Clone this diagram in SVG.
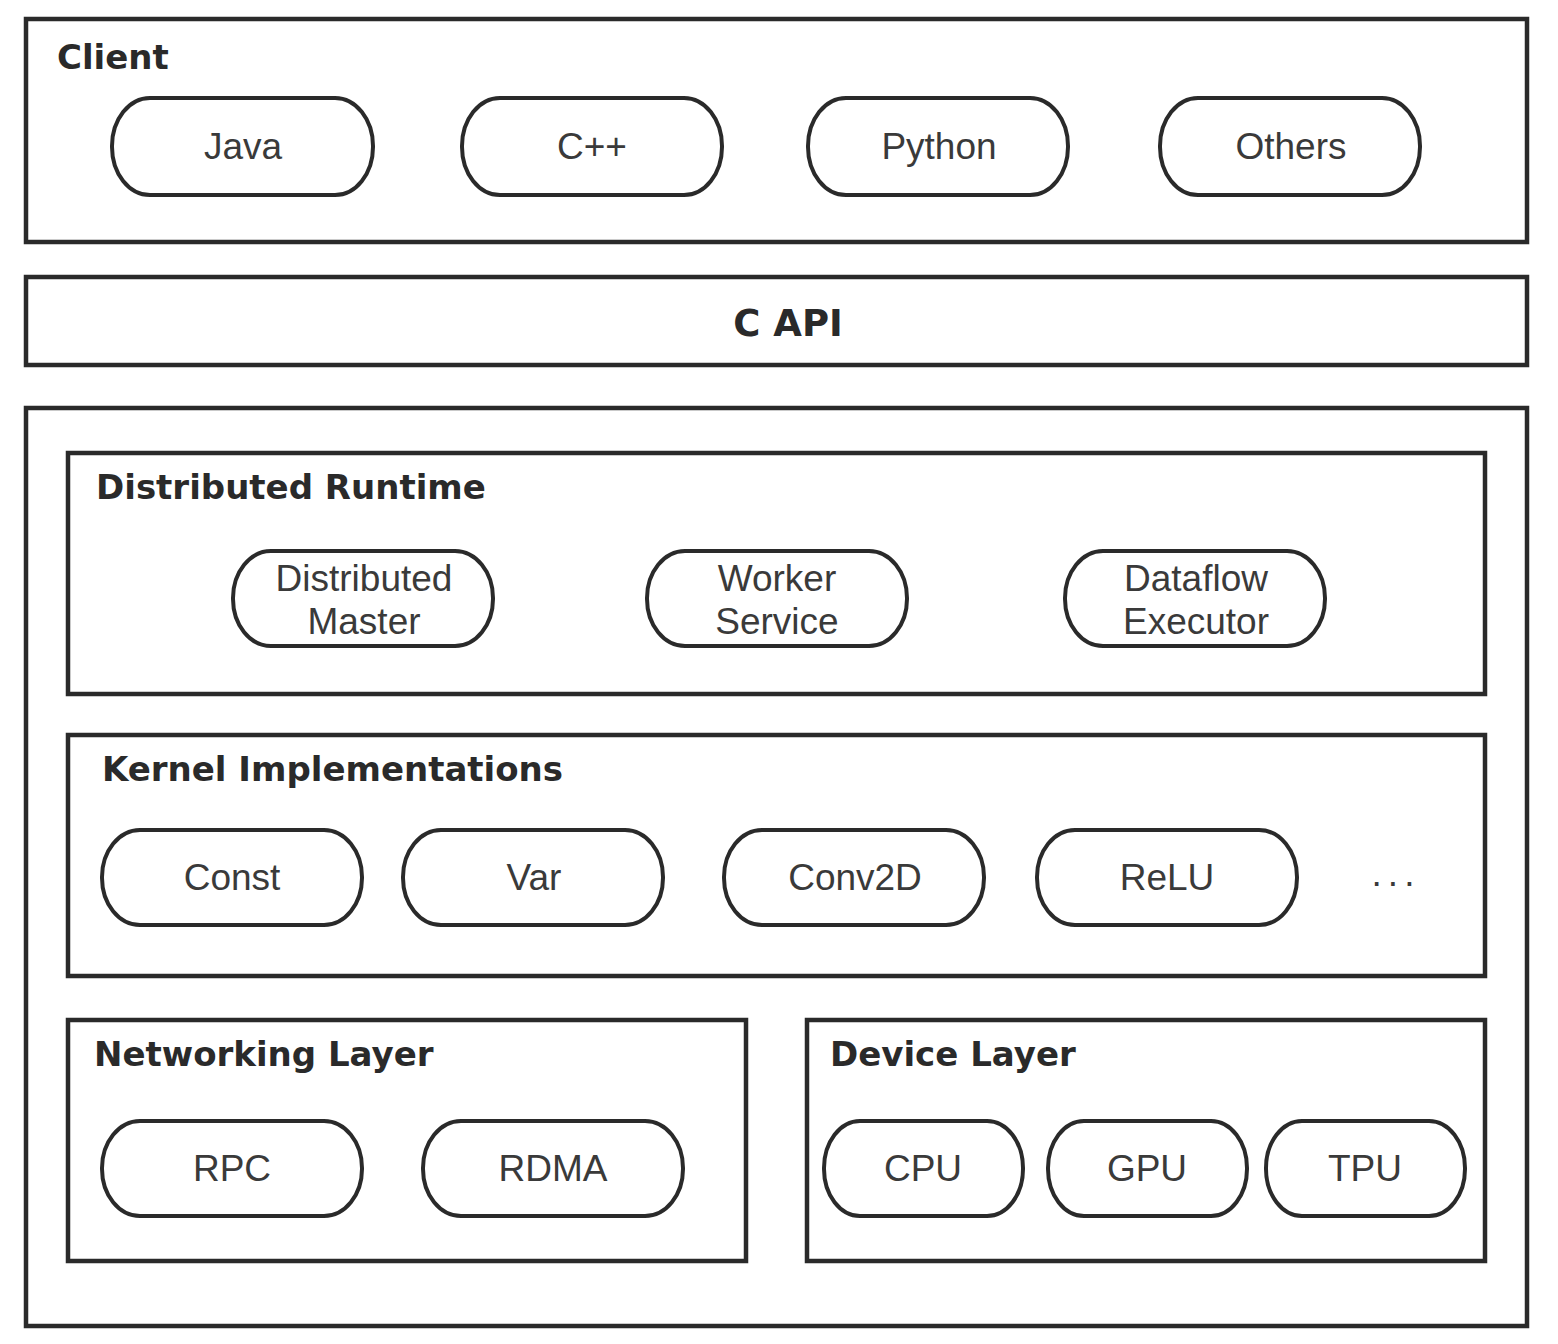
<svg xmlns="http://www.w3.org/2000/svg" width="1558" height="1344" viewBox="0 0 1558 1344">
<style>
.box{fill:#fff;stroke:#2a2a2a;stroke-width:4.5}
.pill{fill:#fff;stroke:#2a2a2a;stroke-width:4}
.hd{font-family:"DejaVu Sans",sans-serif;font-weight:bold;font-size:34px;fill:#2a2a2a}
.lb{font-family:"Liberation Sans",Arial,sans-serif;font-size:37px;fill:#3a3a3a;text-anchor:middle}
</style>
<rect width="1558" height="1344" fill="#fff"/>
<g id="client">
<rect class="box" x="26" y="19" width="1501" height="223"/>
<text class="hd" x="57" y="69">Client</text>
</g>
<g id="java"><rect class="pill" x="112" y="98" width="261" height="97" rx="38" ry="48"/><text class="lb" x="243" y="159">Java</text></g>
<g id="cpp"><rect class="pill" x="462" y="98" width="260" height="97" rx="38" ry="48"/><text class="lb" x="592" y="159">C++</text></g>
<g id="python"><rect class="pill" x="808" y="98" width="260" height="97" rx="38" ry="48"/><text class="lb" x="939" y="159">Python</text></g>
<g id="others"><rect class="pill" x="1160" y="98" width="260" height="97" rx="38" ry="48"/><text class="lb" x="1291" y="159">Others</text></g>
<g id="capi">
<rect class="box" x="26" y="277" width="1501" height="88"/>
<text x="788" y="336" style="font-family:'DejaVu Sans',sans-serif;font-weight:bold;font-size:37px;fill:#2a2a2a;text-anchor:middle">C API</text>
</g>
<g id="core"><rect class="box" x="26" y="408" width="1501" height="918"/></g>
<g id="distributed-runtime">
<rect class="box" x="68" y="453" width="1417" height="241"/>
<text class="hd" x="96" y="499">Distributed Runtime</text>
</g>
<g id="distributed-master"><rect class="pill" x="233" y="551" width="260" height="95" rx="38" ry="47"/><text class="lb" x="364" y="591">Distributed</text><text class="lb" x="364" y="634">Master</text></g>
<g id="worker-service"><rect class="pill" x="647" y="551" width="260" height="95" rx="38" ry="47"/><text class="lb" x="777" y="591">Worker</text><text class="lb" x="777" y="634">Service</text></g>
<g id="dataflow-executor"><rect class="pill" x="1065" y="551" width="260" height="95" rx="38" ry="47"/><text class="lb" x="1196" y="591">Dataflow</text><text class="lb" x="1196" y="634">Executor</text></g>
<g id="kernel-implementations">
<rect class="box" x="68" y="735" width="1417" height="241"/>
<text class="hd" x="102" y="781">Kernel Implementations</text>
<text class="lb" x="1396" y="886" letter-spacing="6">...</text>
</g>
<g id="const"><rect class="pill" x="102" y="830" width="260" height="95" rx="38" ry="47"/><text class="lb" x="232" y="890">Const</text></g>
<g id="var"><rect class="pill" x="403" y="830" width="260" height="95" rx="38" ry="47"/><text class="lb" x="534" y="890">Var</text></g>
<g id="conv2d"><rect class="pill" x="724" y="830" width="260" height="95" rx="38" ry="47"/><text class="lb" x="855" y="890">Conv2D</text></g>
<g id="relu"><rect class="pill" x="1037" y="830" width="260" height="95" rx="38" ry="47"/><text class="lb" x="1167" y="890">ReLU</text></g>
<g id="networking-layer">
<rect class="box" x="68" y="1020" width="678" height="241"/>
<text class="hd" x="94" y="1066">Networking Layer</text>
</g>
<g id="rpc"><rect class="pill" x="102" y="1121" width="260" height="95" rx="38" ry="47"/><text class="lb" x="232" y="1181">RPC</text></g>
<g id="rdma"><rect class="pill" x="423" y="1121" width="260" height="95" rx="38" ry="47"/><text class="lb" x="553" y="1181">RDMA</text></g>
<g id="device-layer">
<rect class="box" x="807" y="1020" width="678" height="241"/>
<text class="hd" x="830" y="1066">Device Layer</text>
</g>
<g id="cpu"><rect class="pill" x="824" y="1121" width="199" height="95" rx="36" ry="47"/><text class="lb" x="923" y="1181">CPU</text></g>
<g id="gpu"><rect class="pill" x="1048" y="1121" width="199" height="95" rx="36" ry="47"/><text class="lb" x="1147" y="1181">GPU</text></g>
<g id="tpu"><rect class="pill" x="1266" y="1121" width="199" height="95" rx="36" ry="47"/><text class="lb" x="1365" y="1181">TPU</text></g>
<g id="connectors"></g>
</svg>
